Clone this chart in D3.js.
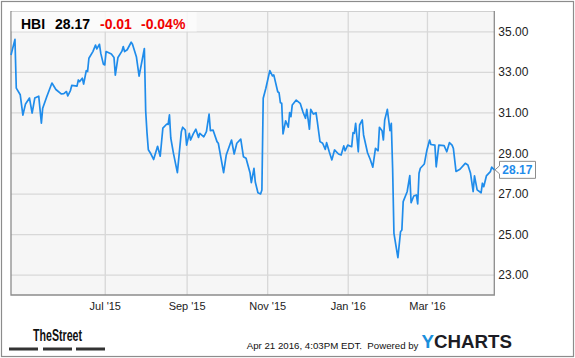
<!DOCTYPE html>
<html>
<head>
<meta charset="utf-8">
<script src="https://cdn.jsdelivr.net/npm/d3@7"></script>
<style>
  html, body { margin: 0; padding: 0; background: #fff; }
  svg { display: block; font-family: "Liberation Sans", Arial, sans-serif; }
</style>
</head>
<body>
<svg id="chart" width="575" height="358"></svg>
<script>
// ---- data ----
const ticker = "HBI";
const lastPrice = "28.17";
const change = "-0.01";
const changePct = "-0.04%";
const startDate = "2015-04-21";
const endDate = "2016-04-21";
const dayOffsets = [0,3,4,7,9,11,14,16,18,21,23,24,27,31,34,38,40,42,43,45,46,50,51,52,54,55,57,58,59,62,64,65,67,68,70,71,72,76,78,79,81,84,85,86,88,91,92,95,97,101,102,103,104,106,108,111,113,115,118,119,120,121,123,126,129,130,132,133,135,136,138,140,142,143,146,148,150,151,153,156,157,161,163,167,169,171,174,176,178,181,182,184,185,187,189,190,191,193,196,198,199,202,203,204,205,206,208,210,211,212,213,216,219,221,223,224,226,227,229,231,232,234,236,238,239,241,243,245,248,250,252,253,255,258,259,260,261,263,264,266,267,270,272,274,276,278,279,281,282,283,285,287,288,289,290,293,295,296,297,300,302,303,305,307,308,309,310,313,315,317,318,321,322,324,328,330,332,334,335,337,340,344,346,348,350,351,353,356,357,358,360,363,364,366];
const prices = [33.83,34.60,32.20,31.87,30.87,31.42,31.71,30.97,31.71,31.80,30.47,31.21,31.76,32.45,32.13,31.91,31.93,32.03,31.81,32.08,32.33,32.30,32.60,32.52,32.69,32.40,33.06,33.02,33.67,34.00,34.32,34.13,34.36,33.91,33.37,33.34,34.00,33.88,33.71,32.84,33.71,34.02,34.25,34.00,34.09,34.46,34.36,33.73,32.79,34.15,31.07,29.99,29.16,28.95,28.68,29.33,28.84,30.23,30.43,30.41,30.88,29.74,28.99,28.03,30.05,30.27,30.13,29.39,29.97,29.64,29.94,30.17,29.77,29.97,29.80,30.05,30.92,30.10,30.13,29.56,29.48,28.03,28.90,29.64,28.95,29.48,29.68,28.82,28.74,28.03,27.54,28.24,27.57,27.04,26.98,27.18,31.70,32.19,33.06,32.80,32.85,32.02,31.97,31.48,31.45,29.94,30.59,30.27,30.99,30.79,31.37,31.61,31.45,31.04,30.71,31.15,30.17,31.15,30.92,30.99,30.54,29.56,29.48,29.18,29.51,29.06,28.66,29.15,28.95,28.90,29.35,29.11,29.39,29.31,30.00,29.97,30.46,29.06,30.38,30.63,29.89,29.01,28.69,28.30,29.23,29.11,30.27,30.10,29.64,30.63,31.15,30.10,30.46,28.25,25.04,23.84,25.12,25.20,26.60,27.09,27.89,26.55,26.88,26.93,26.49,28.00,28.25,28.46,29.15,29.64,29.42,29.39,28.32,29.39,29.36,29.06,29.51,29.39,29.23,28.09,28.20,28.49,28.41,28.00,27.10,27.87,27.18,27.04,27.51,27.34,27.87,28.08,28.30,28.17];
const xTickDates = ["2015-07-01","2015-09-01","2015-11-01","2016-01-01","2016-03-01"];
const xTickLabels = ["Jul '15","Sep '15","Nov '15","Jan '16","Mar '16"];
const yTickValues = [23,25,27,29,31,33,35];
const footerText = "Apr 21 2016, 4:03PM EDT.  Powered by";

// ---- layout ----
const parse = d3.timeParse("%Y-%m-%d");
const start = parse(startDate);
const plot = {l: 11, t: 11, r: 494.3, b: 295};
const svg = d3.select("#chart");

const x = d3.scaleTime().domain([start, parse(endDate)]).range([plot.l, plot.r]);
const y = d3.scaleLinear().domain([22, 36]).range([plot.b, plot.t]);

const data = dayOffsets.map((d, i) => ({date: d3.timeDay.offset(start, d), v: prices[i]}));

// outer frame
svg.append("rect").attr("x", 1.5).attr("y", 1.5).attr("width", 572).attr("height", 355)
  .attr("fill", "#fff").attr("stroke", "#8c8c8c").attr("stroke-width", 1.2);

// plot background
svg.append("rect").attr("x", plot.l).attr("y", plot.t)
  .attr("width", plot.r - plot.l).attr("height", plot.b - plot.t).attr("fill", "#f6f6f6");

// gridlines
const xTicks = xTickDates.map(parse);
svg.append("g").attr("transform", `translate(0,${plot.b})`)
  .call(d3.axisBottom(x).tickValues(xTicks).tickSize(-(plot.b - plot.t)).tickFormat(""))
  .call(g => g.select(".domain").remove())
  .call(g => g.selectAll("line").attr("stroke", "#d8d8d8").attr("stroke-width", 1.3));
svg.append("g").attr("transform", `translate(${plot.l},0)`)
  .call(d3.axisLeft(y).tickValues(yTickValues).tickSize(-(plot.r - plot.l)).tickFormat(""))
  .call(g => g.select(".domain").remove())
  .call(g => g.selectAll("line").attr("stroke", "#d8d8d8").attr("stroke-width", 1.3));

// plot borders
svg.append("line").attr("x1", plot.l).attr("x2", plot.r).attr("y1", plot.t + 0.5).attr("y2", plot.t + 0.5)
  .attr("stroke", "#d0d0d0").attr("stroke-width", 1);
svg.append("path")
  .attr("d", `M${plot.l},${plot.t}V${plot.b}H${plot.r}V${plot.t}`)
  .attr("fill", "none").attr("stroke", "#8c8c8c").attr("stroke-width", 1.3);

// x labels
svg.append("g").attr("transform", `translate(0,${plot.b})`)
  .call(d3.axisBottom(x).tickValues(xTicks).tickSize(0).tickPadding(0)
    .tickFormat((d, i) => xTickLabels[i]))
  .call(g => g.select(".domain").remove())
  .call(g => g.selectAll("text").attr("y", 14.5).attr("dy", 0)
    .attr("font-size", "11px").attr("fill", "#222")
    .attr("font-family", "Liberation Sans, Arial, sans-serif"));

// y labels
svg.append("g").attr("transform", `translate(${plot.r},0)`)
  .call(d3.axisRight(y).tickValues(yTickValues).tickSize(0).tickPadding(4)
    .tickFormat(d3.format(".2f")))
  .call(g => g.select(".domain").remove())
  .call(g => g.selectAll("text").attr("dy", "0.34em")
    .attr("font-size", "12px").attr("fill", "#222")
    .attr("font-family", "Liberation Sans, Arial, sans-serif"));

// price line
svg.append("path").datum(data)
  .attr("fill", "none").attr("stroke", "#1f8ceb").attr("stroke-width", 1.7)
  .attr("stroke-linejoin", "round")
  .attr("d", d3.line().x(d => x(d.date)).y(d => y(d.v)));

// header box
svg.append("rect").attr("x", plot.l + 0.7).attr("y", plot.t + 1).attr("width", 185).attr("height", 19.5)
  .attr("fill", "#fbfbfb").attr("opacity", 0.85);
const hdr = svg.append("text").attr("y", 29).attr("font-size", "14px").attr("font-weight", "bold");
hdr.append("tspan").attr("x", 21).attr("fill", "#000").text(ticker);
hdr.append("tspan").attr("x", 55).attr("fill", "#000").text(lastPrice);
hdr.append("tspan").attr("x", 100).attr("fill", "#f00000").text(change);
hdr.append("tspan").attr("x", 141).attr("fill", "#f00000").text(changePct);

// last value label
const last = data[data.length - 1];
const ly = y(last.v);
const bx = 499.5, bw = 36, bh = 17;
svg.append("path")
  .attr("d", `M${plot.r + 0.7},${ly} L${bx},${ly - 4} V${ly - bh / 2} H${bx + bw} V${ly + bh / 2} H${bx} V${ly + 4} Z`)
  .attr("fill", "#fff").attr("stroke", "#8c8c8c").attr("stroke-width", 1);
svg.append("text").attr("x", bx + 2.8).attr("y", ly + 4.5)
  .attr("font-size", "12px").attr("font-weight", "bold").attr("fill", "#1f8ceb")
  .text(d3.format(".2f")(last.v));

// footer: TheStreet logo
svg.append("text").attr("x", 33).attr("y", 341).attr("font-size", "16px").attr("font-weight", "bold")
  .attr("fill", "#111").attr("textLength", 49).attr("lengthAdjust", "spacingAndGlyphs").text("TheStreet");
[[9, 38], [43, 72], [76, 105]].forEach(([a, b]) => {
  svg.append("rect").attr("x", a).attr("y", 347.5).attr("width", b - a).attr("height", 3).attr("fill", "#333");
});

// footer text
svg.append("text").attr("x", 246.7).attr("y", 348.5).attr("font-size", "9.7px").attr("fill", "#111")
  .attr("xml:space", "preserve").style("white-space", "pre").text(footerText);

// YCHARTS logo
const yc = svg.append("text").attr("x", 421.5).attr("y", 348).attr("font-size", "18px").attr("font-weight", "bold")
  .attr("textLength", 90.5).attr("lengthAdjust", "spacingAndGlyphs");
yc.append("tspan").attr("fill", "#1a8fdc").text("Y");
yc.append("tspan").attr("fill", "#1c1c24").text("CHARTS");
</script>
</body>
</html>
